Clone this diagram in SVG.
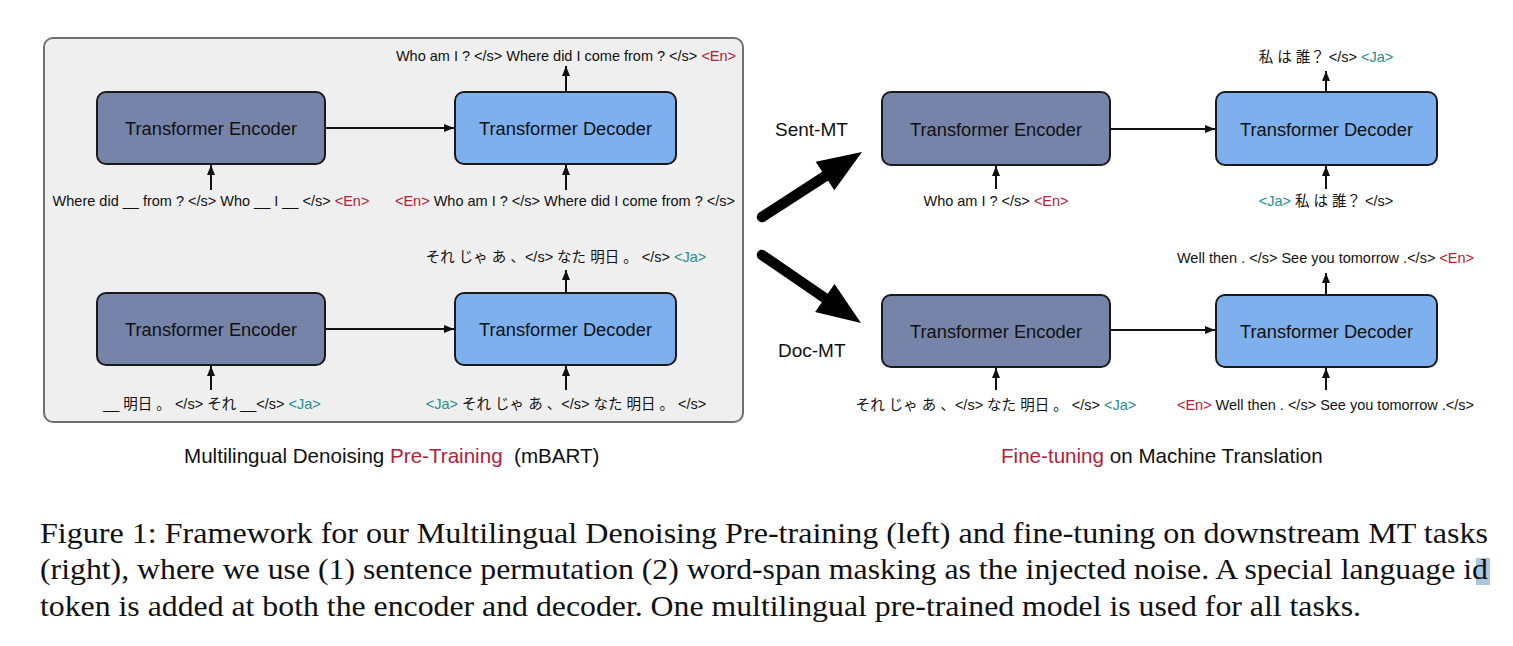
<svg xmlns="http://www.w3.org/2000/svg" width="1513" height="646" viewBox="0 0 1513 646">
<style>
.bg{fill:#ffffff}
.panel{fill:#efefef;stroke:#707070;stroke-width:2}
.enc{fill:#7584a8;stroke:#1a1a1a;stroke-width:2}
.dec{fill:#7db0ec;stroke:#1a1a1a;stroke-width:2}
.box{font-family:"Liberation Sans","Noto Sans CJK JP",sans-serif;font-size:18.3px;fill:#111;text-anchor:middle}
.tok{font-family:"Liberation Sans","Noto Sans CJK JP",sans-serif;font-size:14.5px;fill:#111;text-anchor:middle}
.lbl{font-family:"Liberation Sans",sans-serif;font-size:19px;fill:#111}
.ttl{font-family:"Liberation Sans",sans-serif;font-size:20.6px;fill:#111}
.cap{font-family:"Liberation Serif",serif;font-size:30px;fill:#111}
.red{fill:#b4203a}
.teal{fill:#2a8c90}
.thin{stroke:#111;stroke-width:2;fill:none;marker-end:url(#ah)}
.thick{stroke:#000;stroke-width:10.5;stroke-linecap:round;fill:none}
</style>
<defs>
<marker id="ah" viewBox="0 0 10 8" refX="10" refY="4" markerWidth="10" markerHeight="8" markerUnits="userSpaceOnUse" orient="auto">
<path d="M0,0 L10,4 L0,8 z" fill="#111"/>
</marker>
</defs>
<rect class="bg" x="0" y="0" width="1513" height="646"/>

<g id="pretrain-panel">
<rect class="panel" x="44" y="38" width="699" height="384" rx="9"/>
</g>

<g id="enc1"><rect class="enc" x="97" y="92" width="228" height="72" rx="9"/><text class="box" x="211" y="135">Transformer Encoder</text></g>
<g id="dec1"><rect class="dec" x="455" y="92" width="221" height="72" rx="9"/><text class="box" x="565.5" y="135">Transformer Decoder</text></g>
<g id="enc2"><rect class="enc" x="97" y="293" width="228" height="72" rx="9"/><text class="box" x="211" y="336">Transformer Encoder</text></g>
<g id="dec2"><rect class="dec" x="455" y="293" width="221" height="72" rx="9"/><text class="box" x="565.5" y="336">Transformer Decoder</text></g>
<g id="enc3"><rect class="enc" x="882" y="92" width="228" height="73" rx="9"/><text class="box" x="996" y="135.5">Transformer Encoder</text></g>
<g id="dec3"><rect class="dec" x="1216" y="92" width="221" height="73" rx="9"/><text class="box" x="1326.5" y="135.5">Transformer Decoder</text></g>
<g id="enc4"><rect class="enc" x="882" y="295" width="228" height="72" rx="9"/><text class="box" x="996" y="337.5">Transformer Encoder</text></g>
<g id="dec4"><rect class="dec" x="1216" y="295" width="221" height="72" rx="9"/><text class="box" x="1326.5" y="337.5">Transformer Decoder</text></g>

<g id="connectors">
<line class="thin" x1="325" y1="128" x2="454" y2="128"/>
<line class="thin" x1="211" y1="190" x2="211" y2="165"/>
<line class="thin" x1="566" y1="190" x2="566" y2="165"/>
<line class="thin" x1="566" y1="92" x2="566" y2="66"/>
<line class="thin" x1="325" y1="329" x2="454" y2="329"/>
<line class="thin" x1="211" y1="390" x2="211" y2="366"/>
<line class="thin" x1="566" y1="390" x2="566" y2="366"/>
<line class="thin" x1="566" y1="293" x2="566" y2="270"/>
<line class="thin" x1="1110" y1="129" x2="1215" y2="129"/>
<line class="thin" x1="996" y1="189" x2="996" y2="166"/>
<line class="thin" x1="1326" y1="189" x2="1326" y2="166"/>
<line class="thin" x1="1326" y1="92" x2="1326" y2="71"/>
<line class="thin" x1="1110" y1="330" x2="1215" y2="330"/>
<line class="thin" x1="996" y1="390" x2="996" y2="368"/>
<line class="thin" x1="1326" y1="390" x2="1326" y2="368"/>
<line class="thin" x1="1326" y1="295" x2="1326" y2="273"/>
<g id="big-arrow-sent">
<line class="thick" x1="762" y1="217" x2="827" y2="175"/>
<polygon points="862,152 834.3,190.3 815.7,161.7" fill="#000"/>
</g>
<g id="big-arrow-doc">
<line class="thick" x1="762" y1="255" x2="827" y2="299.5"/>
<polygon points="861,323 815.1,311.9 834.5,283.9" fill="#000"/>
</g>
</g>

<g id="tokens">
<text class="tok" x="566" y="61">Who am I ? &lt;/s&gt; Where did I come from ? &lt;/s&gt; <tspan class="red">&lt;En&gt;</tspan></text>
<text class="tok" x="211" y="206">Where did __ from ? &lt;/s&gt; Who __ I __ &lt;/s&gt; <tspan class="red">&lt;En&gt;</tspan></text>
<text class="tok" x="565" y="206"><tspan class="red">&lt;En&gt;</tspan> Who am I ? &lt;/s&gt; Where did I come from ? &lt;/s&gt;</text>
<text class="tok" x="566" y="262">それ じゃ あ 、&lt;/s&gt; なた 明日 。 &lt;/s&gt; <tspan class="teal">&lt;Ja&gt;</tspan></text>
<text class="tok" x="212" y="409">__ 明日 。 &lt;/s&gt; それ __&lt;/s&gt; <tspan class="teal">&lt;Ja&gt;</tspan></text>
<text class="tok" x="566" y="409"><tspan class="teal">&lt;Ja&gt;</tspan> それ じゃ あ 、&lt;/s&gt; なた 明日 。 &lt;/s&gt;</text>

<text class="tok" x="1326" y="62">私 は 誰？ &lt;/s&gt; <tspan class="teal">&lt;Ja&gt;</tspan></text>
<text class="tok" x="996" y="206">Who am I ? &lt;/s&gt; <tspan class="red">&lt;En&gt;</tspan></text>
<text class="tok" x="1326" y="206"><tspan class="teal">&lt;Ja&gt;</tspan> 私 は 誰？ &lt;/s&gt;</text>
<text class="tok" x="1325.5" y="263">Well then . &lt;/s&gt; See you tomorrow .&lt;/s&gt; <tspan class="red">&lt;En&gt;</tspan></text>
<text class="tok" x="996" y="410">それ じゃ あ 、&lt;/s&gt; なた 明日 。 &lt;/s&gt; <tspan class="teal">&lt;Ja&gt;</tspan></text>
<text class="tok" x="1325.5" y="410"><tspan class="red">&lt;En&gt;</tspan> Well then . &lt;/s&gt; See you tomorrow .&lt;/s&gt;</text>
</g>

<g id="side-labels">
<text class="lbl" x="775" y="135.5">Sent-MT</text>
<text class="lbl" x="778" y="357">Doc-MT</text>
</g>

<g id="titles">
<text class="ttl" x="184" y="463">Multilingual Denoising <tspan class="red">Pre-Training</tspan>&#160; (mBART)</text>
<text class="ttl" x="1001" y="463"><tspan class="red">Fine-tuning</tspan> on Machine Translation</text>
</g>

<g id="caption">
<rect x="1476" y="558" width="14" height="27" fill="#a9c6e4"/>
<text class="cap" x="40" y="542.5" textLength="1448" lengthAdjust="spacingAndGlyphs">Figure 1: Framework for our Multilingual Denoising Pre-training (left) and fine-tuning on downstream MT tasks</text>
<text class="cap" x="40" y="579" textLength="1448" lengthAdjust="spacingAndGlyphs">(right), where we use (1) sentence permutation (2) word-span masking as the injected noise. A special language id</text>
<text class="cap" x="40" y="615.5" textLength="1321" lengthAdjust="spacingAndGlyphs">token is added at both the encoder and decoder. One multilingual pre-trained model is used for all tasks.</text>
</g>
</svg>
